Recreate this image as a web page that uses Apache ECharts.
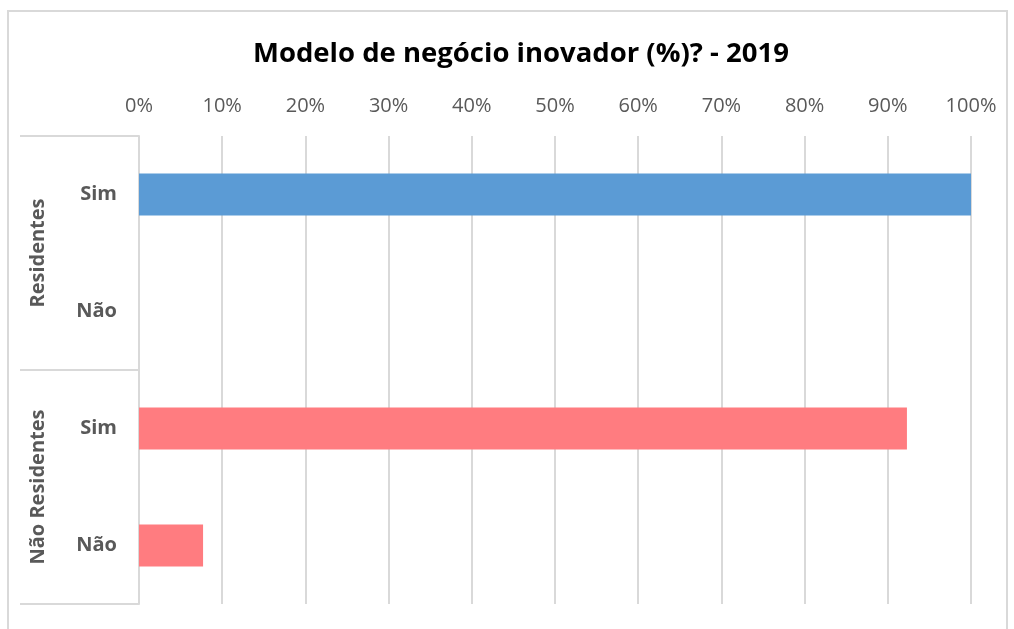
<!DOCTYPE html>
<html>
<head>
<meta charset="utf-8">
<script src="https://cdn.jsdelivr.net/npm/echarts@6/dist/echarts.min.js"></script>
<style>
  html, body { margin: 0; padding: 0; background: #fff; }
  #frame {
    position: absolute; left: 7px; top: 10px; width: 1001px; height: 640px;
    border: 2px solid #d9d9d9; box-sizing: border-box;
  }
  #chart { position: absolute; left: 0; top: 0; width: 1014px; height: 629px; }
</style>
</head>
<body>
<div id="frame"></div>
<div id="chart"></div>
<script>
const title = "Modelo de negócio inovador (%)? - 2019"
const groups = ["Residentes", "Não Residentes"]
const answers = ["Sim", "Não", "Sim", "Não"]
const residentes = [100, 0, null, null]
const naoResidentes = [null, null, 92.3, 7.7]

const font = "'Open Sans', 'Noto Sans', sans-serif"
const chart = echarts.init(document.getElementById("chart"))

chart.setOption({
  animation: false,
  title: {
    text: title,
    left: 248,
    top: 35,
    textStyle: { fontFamily: font, fontSize: 27.5, fontWeight: "bold", color: "#000" }
  },
  grid: { left: 139, right: 43, top: 136, bottom: 25, containLabel: false },
  xAxis: {
    type: "value",
    position: "top",
    min: 0,
    max: 100,
    interval: 10,
    axisLine: { show: false },
    axisTick: { show: false },
    axisLabel: {
      formatter: "{value}%",
      margin: 20,
      color: "#595959",
      fontFamily: font,
      fontSize: 20
    },
    splitLine: { lineStyle: { color: "#d9d9d9", width: 2 } }
  },
  yAxis: [
    {
      type: "category",
      data: answers,
      inverse: true,
      axisLine: { lineStyle: { color: "#d9d9d9", width: 2 } },
      axisTick: { show: false },
      axisLabel: {
        margin: 22,
        color: "#595959",
        fontFamily: font,
        fontSize: 20,
        fontWeight: "bold"
      }
    },
    {
      type: "category",
      data: groups,
      inverse: true,
      position: "left",
      axisLine: { show: false },
      axisTick: {
        show: true,
        length: 119,
        interval: 0,
        lineStyle: { color: "#d9d9d9", width: 2 }
      },
      axisLabel: {
        rotate: 90,
        margin: 91,
        color: "#595959",
        fontFamily: font,
        fontSize: 20,
        fontWeight: "bold"
      }
    }
  ],
  series: [
    {
      type: "bar",
      name: groups[0],
      data: residentes,
      yAxisIndex: 0,
      stack: "g",
      barWidth: 42,
      itemStyle: { color: "#5b9bd5" }
    },
    {
      type: "bar",
      name: groups[1],
      data: naoResidentes,
      yAxisIndex: 0,
      stack: "g",
      barWidth: 42,
      itemStyle: { color: "#ff7c80" }
    }
  ]
})
</script>
</body>
</html>
